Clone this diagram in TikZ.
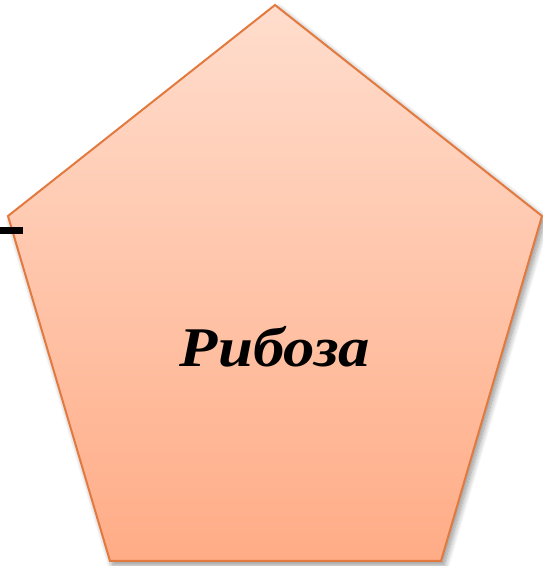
\documentclass[tikz,border=0pt]{standalone}
\usepackage{fontspec}
\setmainfont{Liberation Serif}
\usetikzlibrary{shadows.blur}
\definecolor{topc}{HTML}{FFDDCD}
\definecolor{botc}{HTML}{FFAC86}
\definecolor{edgec}{HTML}{E27A40}
\begin{document}
\begin{tikzpicture}[x=1pt,y=1pt,
  penta/.style={draw=edgec, line width=2pt, line join=miter, top color=topc, bottom color=botc,
    blur shadow={shadow xshift=3pt, shadow yshift=-4pt, shadow blur radius=6pt, shadow blur steps=12, shadow opacity=45}},
  label/.style={font=\fontsize{56}{64}\selectfont\bfseries\itshape, text=black, anchor=base, xscale=1.12}]
\useasboundingbox (0,0) rectangle (543,566);
\coordinate (T) at (275,561);
\coordinate (R) at (542,350);
\coordinate (BR) at (441,5);
\coordinate (BL) at (110,5);
\coordinate (L) at (8,350);
\path[penta] (T) -- (R) -- (BR) -- (BL) -- (L) -- cycle;
\coordinate (bar1) at (0,335.5);
\coordinate (bar2) at (23,335.5);
\draw[line width=6.5pt, black] (bar1) -- (bar2);
\node[label] (txt) at (275,199) {Рибоза};
\end{tikzpicture}
\end{document}
